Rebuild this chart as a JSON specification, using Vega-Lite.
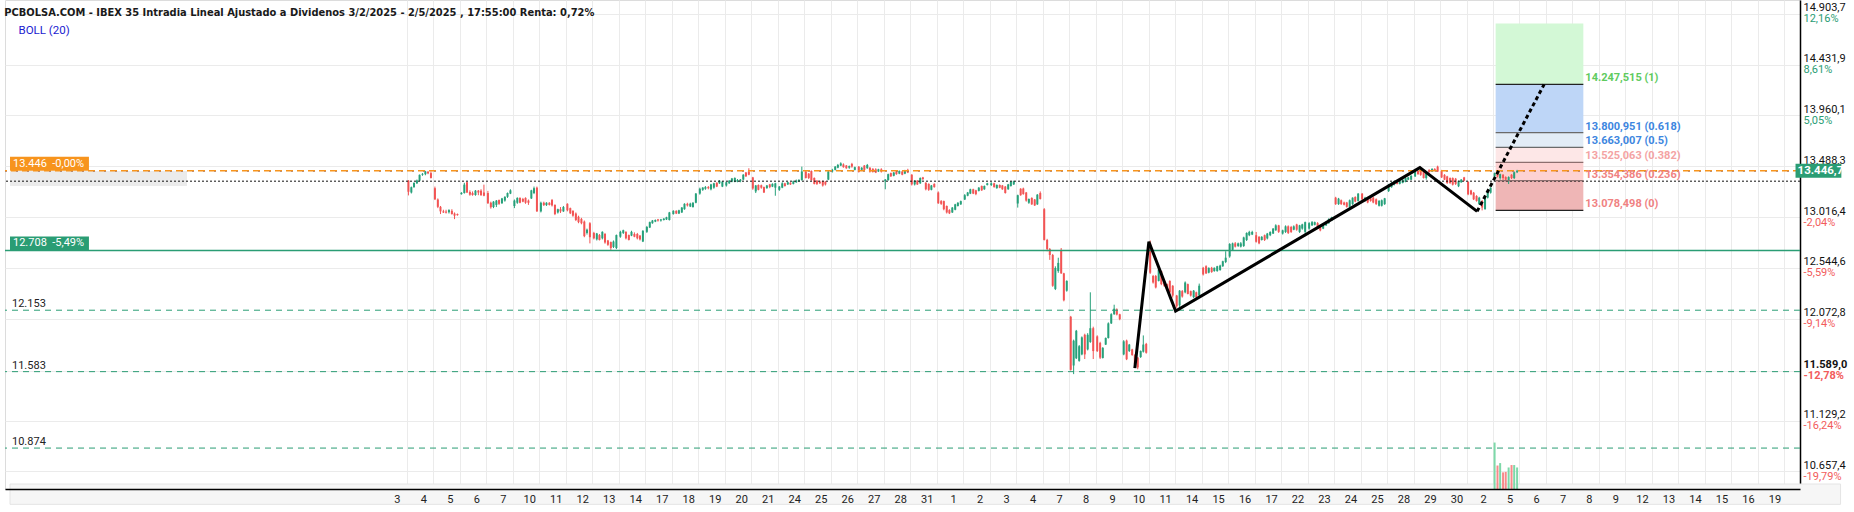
{
"$schema": "https://vega.github.io/schema/vega-lite/v6.json",
"width": 1795, "height": 489,
"autosize": {"type": "none"},
"padding": {"left": 5, "top": 0, "right": 54, "bottom": 23},
"background": "white",
"config": {"view": {"stroke": "#dcdcdc"}, "font": "Roboto"},
"title": {"text": "PCBOLSA.COM - IBEX 35 Intradia Lineal Ajustado a Dividenos 3/2/2025 - 2/5/2025 , 17:55:00 Renta: 0,72%", "subtitle": "\u200b\u00a0\u00a0\u00a0\u00a0\u00a0BOLL (20)", "anchor": "start", "offset": -36.5, "font": "'Liberation Sans Narrow', 'DejaVu Sans Condensed', Roboto", "fontSize": 11, "fontWeight": "bold", "color": "#1a1a1a", "subtitleFont": "Roboto", "subtitleFontSize": 11.5, "subtitleColor": "#1c1cd0", "subtitlePadding": 7},
"datasets": {
"candles": [
{"t":0.06,"o":13355,"c":13252,"h":13360,"l":13218},{"t":0.17,"o":13245,"c":13294,"h":13300,"l":13236},{"t":0.27,"o":13294,"c":13333,"h":13340,"l":13290},{"t":0.38,"o":13330,"c":13357,"h":13365,"l":13325},{"t":0.48,"o":13355,"c":13409,"h":13412,"l":13350},{"t":0.59,"o":13410,"c":13418,"h":13425,"l":13400},{"t":0.70,"o":13415,"c":13440,"h":13446,"l":13405},{"t":0.80,"o":13437,"c":13423,"h":13445,"l":13415},{"t":0.91,"o":13425,"c":13380,"h":13440,"l":13375},
{"t":1.06,"o":13285,"c":13182,"h":13300,"l":13175},{"t":1.17,"o":13180,"c":13112,"h":13190,"l":13100},{"t":1.27,"o":13112,"c":13070,"h":13120,"l":13045},{"t":1.38,"o":13070,"c":13060,"h":13085,"l":13055},{"t":1.48,"o":13068,"c":13058,"h":13085,"l":13050},{"t":1.59,"o":13062,"c":13082,"h":13090,"l":13050},{"t":1.70,"o":13075,"c":13045,"h":13090,"l":13040},{"t":1.80,"o":13050,"c":13030,"h":13060,"l":12998},{"t":1.91,"o":13045,"c":13035,"h":13050,"l":13030},
{"t":2.06,"o":13230,"c":13242,"h":13248,"l":13225},{"t":2.17,"o":13240,"c":13318,"h":13335,"l":13235},{"t":2.27,"o":13340,"c":13245,"h":13345,"l":13240},{"t":2.38,"o":13250,"c":13225,"h":13265,"l":13215},{"t":2.48,"o":13240,"c":13222,"h":13255,"l":13215},{"t":2.59,"o":13222,"c":13262,"h":13268,"l":13215},{"t":2.70,"o":13262,"c":13245,"h":13268,"l":13220},{"t":2.80,"o":13262,"c":13220,"h":13275,"l":13215},{"t":2.91,"o":13245,"c":13215,"h":13318,"l":13210},
{"t":3.06,"o":13240,"c":13145,"h":13260,"l":13140},{"t":3.17,"o":13150,"c":13108,"h":13160,"l":13095},{"t":3.27,"o":13110,"c":13160,"h":13165,"l":13100},{"t":3.38,"o":13130,"c":13170,"h":13175,"l":13110},{"t":3.48,"o":13175,"c":13140,"h":13180,"l":13130},{"t":3.59,"o":13145,"c":13190,"h":13195,"l":13140},{"t":3.70,"o":13170,"c":13205,"h":13210,"l":13160},{"t":3.80,"o":13205,"c":13240,"h":13245,"l":13195},{"t":3.91,"o":13235,"c":13265,"h":13275,"l":13230},
{"t":4.06,"o":13120,"c":13170,"h":13180,"l":13100},{"t":4.17,"o":13150,"c":13195,"h":13200,"l":13140},{"t":4.27,"o":13195,"c":13150,"h":13200,"l":13145},{"t":4.38,"o":13185,"c":13160,"h":13195,"l":13155},{"t":4.48,"o":13195,"c":13150,"h":13200,"l":13140},{"t":4.59,"o":13170,"c":13150,"h":13180,"l":13130},{"t":4.70,"o":13190,"c":13265,"h":13270,"l":13185},{"t":4.80,"o":13240,"c":13285,"h":13300,"l":13230},{"t":4.91,"o":13290,"c":13070,"h":13300,"l":13065},
{"t":5.06,"o":13070,"c":13150,"h":13160,"l":13060},{"t":5.17,"o":13150,"c":13128,"h":13160,"l":13120},{"t":5.27,"o":13128,"c":13150,"h":13155,"l":13120},{"t":5.38,"o":13150,"c":13130,"h":13155,"l":13125},{"t":5.48,"o":13175,"c":13125,"h":13185,"l":13115},{"t":5.59,"o":13130,"c":13045,"h":13135,"l":13035},{"t":5.70,"o":13060,"c":13090,"h":13095,"l":13050},{"t":5.80,"o":13090,"c":13070,"h":13110,"l":13055},{"t":5.91,"o":13070,"c":13110,"h":13120,"l":13065},
{"t":6.06,"o":13140,"c":13080,"h":13145,"l":13070},{"t":6.17,"o":13100,"c":13052,"h":13105,"l":13045},{"t":6.27,"o":13075,"c":13030,"h":13080,"l":13020},{"t":6.38,"o":13050,"c":12990,"h":13060,"l":12980},{"t":6.48,"o":13020,"c":12970,"h":13030,"l":12960},{"t":6.59,"o":13000,"c":12960,"h":13010,"l":12950},{"t":6.70,"o":12975,"c":12840,"h":12985,"l":12830},{"t":6.80,"o":12870,"c":12900,"h":12910,"l":12855},{"t":6.91,"o":12960,"c":12830,"h":12970,"l":12773},
{"t":7.06,"o":12870,"c":12820,"h":12880,"l":12810},{"t":7.17,"o":12810,"c":12865,"h":12870,"l":12800},{"t":7.27,"o":12850,"c":12805,"h":12860,"l":12800},{"t":7.38,"o":12820,"c":12880,"h":12885,"l":12810},{"t":7.48,"o":12860,"c":12780,"h":12870,"l":12770},{"t":7.59,"o":12800,"c":12760,"h":12805,"l":12750},{"t":7.70,"o":12785,"c":12730,"h":12790,"l":12712},{"t":7.80,"o":12740,"c":12790,"h":12800,"l":12730},{"t":7.91,"o":12730,"c":12850,"h":12855,"l":12720},
{"t":8.06,"o":12835,"c":12880,"h":12890,"l":12825},{"t":8.17,"o":12870,"c":12895,"h":12900,"l":12860},{"t":8.27,"o":12880,"c":12820,"h":12885,"l":12810},{"t":8.38,"o":12850,"c":12805,"h":12855,"l":12800},{"t":8.48,"o":12845,"c":12880,"h":12890,"l":12840},{"t":8.59,"o":12860,"c":12835,"h":12875,"l":12830},{"t":8.70,"o":12860,"c":12820,"h":12870,"l":12810},{"t":8.80,"o":12845,"c":12810,"h":12850,"l":12800},{"t":8.91,"o":12790,"c":12890,"h":12895,"l":12785},
{"t":9.06,"o":12880,"c":12925,"h":12935,"l":12870},{"t":9.17,"o":12920,"c":12970,"h":12975,"l":12915},{"t":9.27,"o":12960,"c":12985,"h":12990,"l":12955},{"t":9.38,"o":12975,"c":12990,"h":12995,"l":12970},{"t":9.48,"o":12995,"c":12985,"h":13000,"l":12975},{"t":9.59,"o":12985,"c":12995,"h":13000,"l":12975},{"t":9.70,"o":12990,"c":13002,"h":13008,"l":12985},{"t":9.80,"o":12995,"c":13015,"h":13020,"l":12990},{"t":9.91,"o":12990,"c":13060,"h":13065,"l":12985},
{"t":10.06,"o":13045,"c":13075,"h":13080,"l":13040},{"t":10.17,"o":13075,"c":13050,"h":13080,"l":13045},{"t":10.27,"o":13050,"c":13080,"h":13085,"l":13045},{"t":10.38,"o":13060,"c":13105,"h":13110,"l":13055},{"t":10.48,"o":13090,"c":13140,"h":13145,"l":13085},{"t":10.59,"o":13140,"c":13125,"h":13150,"l":13115},{"t":10.70,"o":13115,"c":13142,"h":13150,"l":13110},{"t":10.80,"o":13110,"c":13150,"h":13155,"l":13105},{"t":10.91,"o":13150,"c":13235,"h":13240,"l":13145},
{"t":11.06,"o":13235,"c":13280,"h":13290,"l":13225},{"t":11.17,"o":13270,"c":13290,"h":13295,"l":13260},{"t":11.27,"o":13280,"c":13295,"h":13305,"l":13270},{"t":11.38,"o":13295,"c":13285,"h":13305,"l":13275},{"t":11.48,"o":13275,"c":13320,"h":13325,"l":13265},{"t":11.59,"o":13290,"c":13330,"h":13335,"l":13280},{"t":11.70,"o":13335,"c":13300,"h":13340,"l":13295},{"t":11.80,"o":13330,"c":13355,"h":13360,"l":13325},{"t":11.91,"o":13300,"c":13345,"h":13350,"l":13295},
{"t":12.06,"o":13310,"c":13340,"h":13345,"l":13300},{"t":12.17,"o":13330,"c":13355,"h":13360,"l":13325},{"t":12.27,"o":13345,"c":13375,"h":13380,"l":13340},{"t":12.38,"o":13345,"c":13380,"h":13385,"l":13340},{"t":12.48,"o":13345,"c":13360,"h":13370,"l":13340},{"t":12.59,"o":13350,"c":13365,"h":13370,"l":13340},{"t":12.70,"o":13365,"c":13410,"h":13415,"l":13360},{"t":12.80,"o":13430,"c":13395,"h":13435,"l":13390},{"t":12.91,"o":13440,"c":13410,"h":13470,"l":13405},
{"t":13.06,"o":13385,"c":13282,"h":13390,"l":13270},{"t":13.17,"o":13255,"c":13310,"h":13315,"l":13240},{"t":13.27,"o":13315,"c":13270,"h":13320,"l":13265},{"t":13.38,"o":13312,"c":13290,"h":13318,"l":13280},{"t":13.48,"o":13295,"c":13245,"h":13300,"l":13240},{"t":13.59,"o":13285,"c":13310,"h":13315,"l":13280},{"t":13.70,"o":13320,"c":13295,"h":13325,"l":13285},{"t":13.80,"o":13300,"c":13325,"h":13330,"l":13295},{"t":13.91,"o":13290,"c":13330,"h":13335,"l":13215},
{"t":14.06,"o":13270,"c":13300,"h":13305,"l":13260},{"t":14.17,"o":13290,"c":13330,"h":13340,"l":13285},{"t":14.27,"o":13330,"c":13305,"h":13335,"l":13300},{"t":14.38,"o":13320,"c":13340,"h":13345,"l":13315},{"t":14.48,"o":13335,"c":13320,"h":13340,"l":13315},{"t":14.59,"o":13325,"c":13350,"h":13355,"l":13320},{"t":14.70,"o":13340,"c":13355,"h":13365,"l":13335},{"t":14.80,"o":13350,"c":13362,"h":13368,"l":13345},{"t":14.91,"o":13360,"c":13440,"h":13485,"l":13355},
{"t":15.06,"o":13440,"c":13380,"h":13450,"l":13375},{"t":15.17,"o":13420,"c":13380,"h":13425,"l":13370},{"t":15.27,"o":13445,"c":13360,"h":13450,"l":13355},{"t":15.38,"o":13380,"c":13325,"h":13385,"l":13320},{"t":15.48,"o":13355,"c":13325,"h":13360,"l":13315},{"t":15.59,"o":13345,"c":13330,"h":13355,"l":13325},{"t":15.70,"o":13350,"c":13310,"h":13355,"l":13300},{"t":15.80,"o":13345,"c":13320,"h":13350,"l":13310},{"t":15.91,"o":13365,"c":13440,"h":13450,"l":13360},
{"t":16.06,"o":13440,"c":13455,"h":13465,"l":13430},{"t":16.17,"o":13455,"c":13485,"h":13490,"l":13450},{"t":16.27,"o":13475,"c":13500,"h":13510,"l":13470},{"t":16.38,"o":13495,"c":13515,"h":13525,"l":13490},{"t":16.48,"o":13505,"c":13480,"h":13515,"l":13475},{"t":16.59,"o":13495,"c":13470,"h":13500,"l":13465},{"t":16.70,"o":13475,"c":13490,"h":13495,"l":13465},{"t":16.80,"o":13510,"c":13485,"h":13520,"l":13475},{"t":16.91,"o":13455,"c":13480,"h":13485,"l":13450},
{"t":17.06,"o":13485,"c":13435,"h":13490,"l":13430},{"t":17.17,"o":13455,"c":13475,"h":13480,"l":13450},{"t":17.27,"o":13495,"c":13455,"h":13500,"l":13450},{"t":17.38,"o":13470,"c":13500,"h":13510,"l":13465},{"t":17.48,"o":13475,"c":13440,"h":13480,"l":13430},{"t":17.59,"o":13465,"c":13435,"h":13470,"l":13430},{"t":17.70,"o":13460,"c":13430,"h":13470,"l":13425},{"t":17.80,"o":13440,"c":13460,"h":13465,"l":13435},{"t":17.91,"o":13460,"c":13440,"h":13470,"l":13430},
{"t":18.06,"o":13350,"c":13365,"h":13370,"l":13275},{"t":18.17,"o":13360,"c":13415,"h":13420,"l":13355},{"t":18.27,"o":13425,"c":13395,"h":13430,"l":13390},{"t":18.38,"o":13400,"c":13430,"h":13435,"l":13395},{"t":18.48,"o":13440,"c":13415,"h":13445,"l":13410},{"t":18.59,"o":13420,"c":13445,"h":13450,"l":13415},{"t":18.70,"o":13440,"c":13410,"h":13445,"l":13405},{"t":18.80,"o":13420,"c":13450,"h":13455,"l":13415},{"t":18.91,"o":13455,"c":13430,"h":13465,"l":13425},
{"t":19.06,"o":13410,"c":13320,"h":13415,"l":13310},{"t":19.17,"o":13320,"c":13355,"h":13360,"l":13310},{"t":19.27,"o":13355,"c":13320,"h":13360,"l":13315},{"t":19.38,"o":13330,"c":13380,"h":13385,"l":13325},{"t":19.48,"o":13385,"c":13370,"h":13390,"l":13360},{"t":19.59,"o":13335,"c":13275,"h":13340,"l":13265},{"t":19.70,"o":13325,"c":13270,"h":13330,"l":13260},{"t":19.80,"o":13270,"c":13310,"h":13315,"l":13265},{"t":19.91,"o":13325,"c":13295,"h":13330,"l":13290},
{"t":20.06,"o":13245,"c":13145,"h":13255,"l":13140},{"t":20.17,"o":13165,"c":13140,"h":13175,"l":13130},{"t":20.27,"o":13165,"c":13090,"h":13170,"l":13080},{"t":20.38,"o":13120,"c":13060,"h":13125,"l":13050},{"t":20.48,"o":13082,"c":13052,"h":13090,"l":13045},{"t":20.59,"o":13060,"c":13105,"h":13110,"l":13055},{"t":20.70,"o":13085,"c":13135,"h":13140,"l":13080},{"t":20.80,"o":13120,"c":13150,"h":13155,"l":13115},{"t":20.91,"o":13135,"c":13165,"h":13170,"l":13130},
{"t":21.06,"o":13180,"c":13220,"h":13230,"l":13175},{"t":21.17,"o":13215,"c":13245,"h":13250,"l":13210},{"t":21.27,"o":13235,"c":13275,"h":13280,"l":13230},{"t":21.38,"o":13275,"c":13235,"h":13280,"l":13230},{"t":21.48,"o":13265,"c":13230,"h":13270,"l":13220},{"t":21.59,"o":13260,"c":13290,"h":13295,"l":13255},{"t":21.70,"o":13305,"c":13265,"h":13310,"l":13260},{"t":21.80,"o":13275,"c":13305,"h":13310,"l":13270},{"t":21.91,"o":13315,"c":13330,"h":13335,"l":13310},
{"t":22.06,"o":13315,"c":13330,"h":13340,"l":13305},{"t":22.17,"o":13330,"c":13295,"h":13335,"l":13290},{"t":22.27,"o":13285,"c":13315,"h":13320,"l":13280},{"t":22.38,"o":13315,"c":13290,"h":13320,"l":13285},{"t":22.48,"o":13310,"c":13275,"h":13315,"l":13270},{"t":22.59,"o":13300,"c":13240,"h":13305,"l":13235},{"t":22.70,"o":13275,"c":13320,"h":13325,"l":13270},{"t":22.80,"o":13305,"c":13345,"h":13350,"l":13300},{"t":22.91,"o":13320,"c":13350,"h":13355,"l":13315},
{"t":23.06,"o":13143,"c":13220,"h":13225,"l":13105},{"t":23.17,"o":13280,"c":13220,"h":13285,"l":13215},{"t":23.27,"o":13282,"c":13230,"h":13290,"l":13225},{"t":23.38,"o":13245,"c":13170,"h":13250,"l":13160},{"t":23.48,"o":13150,"c":13185,"h":13190,"l":13140},{"t":23.59,"o":13195,"c":13135,"h":13200,"l":13130},{"t":23.70,"o":13180,"c":13125,"h":13185,"l":13120},{"t":23.80,"o":13135,"c":13225,"h":13230,"l":13130},{"t":23.91,"o":13240,"c":13185,"h":13255,"l":13180},
{"t":24.06,"o":13090,"c":12805,"h":13100,"l":12800},{"t":24.17,"o":12805,"c":12720,"h":12815,"l":12700},{"t":24.27,"o":12720,"c":12665,"h":12730,"l":12620},{"t":24.38,"o":12665,"c":12380,"h":12675,"l":12370},{"t":24.48,"o":12350,"c":12545,"h":12560,"l":12340},{"t":24.59,"o":12516,"c":12592,"h":12640,"l":12500},{"t":24.70,"o":12713,"c":12495,"h":12730,"l":12490},{"t":24.80,"o":12495,"c":12245,"h":12500,"l":12235},{"t":24.91,"o":12334,"c":12425,"h":12430,"l":12325},
{"t":25.06,"o":12092,"c":11600,"h":12100,"l":11592},{"t":25.17,"o":11640,"c":11870,"h":11880,"l":11560},{"t":25.27,"o":11707,"c":11962,"h":11970,"l":11700},{"t":25.38,"o":11683,"c":11819,"h":11830,"l":11675},{"t":25.48,"o":11743,"c":11901,"h":11910,"l":11735},{"t":25.59,"o":11925,"c":11743,"h":11935,"l":11700},{"t":25.70,"o":11789,"c":11925,"h":11940,"l":11780},{"t":25.80,"o":11858,"c":11986,"h":12319,"l":11850},{"t":25.91,"o":11986,"c":11774,"h":12000,"l":11700},
{"t":26.06,"o":11910,"c":11774,"h":11920,"l":11765},{"t":26.17,"o":11850,"c":11713,"h":11860,"l":11700},{"t":26.27,"o":11710,"c":11804,"h":11810,"l":11705},{"t":26.38,"o":11834,"c":11895,"h":11900,"l":11830},{"t":26.48,"o":11895,"c":12031,"h":12040,"l":11890},{"t":26.59,"o":12031,"c":12116,"h":12125,"l":12025},{"t":26.70,"o":12116,"c":12167,"h":12204,"l":12110},{"t":26.80,"o":12160,"c":12113,"h":12170,"l":12105},{"t":26.91,"o":12115,"c":12070,"h":12120,"l":12060},
{"t":27.06,"o":11743,"c":11864,"h":11875,"l":11735},{"t":27.17,"o":11871,"c":11698,"h":11880,"l":11690},{"t":27.27,"o":11774,"c":11834,"h":11840,"l":11765},{"t":27.38,"o":11789,"c":11737,"h":11795,"l":11730},{"t":27.48,"o":11737,"c":11652,"h":11745,"l":11645},{"t":27.59,"o":11713,"c":11622,"h":11720,"l":11605},{"t":27.70,"o":11719,"c":11774,"h":11780,"l":11710},{"t":27.80,"o":11768,"c":11834,"h":11919,"l":11760},{"t":27.91,"o":11840,"c":11758,"h":11850,"l":11750},
{"t":28.06,"o":12773,"c":12501,"h":12800,"l":12490},{"t":28.17,"o":12470,"c":12410,"h":12480,"l":12400},{"t":28.27,"o":12470,"c":12364,"h":12480,"l":12355},{"t":28.38,"o":12425,"c":12531,"h":12560,"l":12420},{"t":28.48,"o":12516,"c":12395,"h":12520,"l":12385},{"t":28.59,"o":12410,"c":12380,"h":12415,"l":12370},{"t":28.70,"o":12395,"c":12349,"h":12400,"l":12340},{"t":28.80,"o":12425,"c":12319,"h":12430,"l":12310},{"t":28.91,"o":12380,"c":12289,"h":12385,"l":12270},
{"t":29.06,"o":12289,"c":12190,"h":12295,"l":12175},{"t":29.17,"o":12198,"c":12334,"h":12340,"l":12160},{"t":29.27,"o":12330,"c":12280,"h":12340,"l":12270},{"t":29.38,"o":12319,"c":12410,"h":12420,"l":12310},{"t":29.48,"o":12395,"c":12304,"h":12400,"l":12300},{"t":29.59,"o":12330,"c":12289,"h":12335,"l":12280},{"t":29.70,"o":12274,"c":12334,"h":12340,"l":12265},{"t":29.80,"o":12319,"c":12274,"h":12325,"l":12265},{"t":29.91,"o":12290,"c":12380,"h":12400,"l":12280},
{"t":30.06,"o":12546,"c":12485,"h":12555,"l":12475},{"t":30.17,"o":12561,"c":12494,"h":12570,"l":12490},{"t":30.27,"o":12501,"c":12546,"h":12550,"l":12495},{"t":30.38,"o":12546,"c":12507,"h":12555,"l":12500},{"t":30.48,"o":12516,"c":12546,"h":12550,"l":12510},{"t":30.59,"o":12516,"c":12561,"h":12565,"l":12510},{"t":30.70,"o":12525,"c":12567,"h":12575,"l":12520},{"t":30.80,"o":12561,"c":12607,"h":12612,"l":12555},{"t":30.91,"o":12600,"c":12640,"h":12700,"l":12590},
{"t":31.06,"o":12652,"c":12767,"h":12775,"l":12640},{"t":31.17,"o":12713,"c":12773,"h":12780,"l":12705},{"t":31.27,"o":12773,"c":12743,"h":12785,"l":12735},{"t":31.38,"o":12749,"c":12773,"h":12780,"l":12740},{"t":31.48,"o":12743,"c":12773,"h":12785,"l":12735},{"t":31.59,"o":12749,"c":12828,"h":12835,"l":12740},{"t":31.70,"o":12804,"c":12870,"h":12875,"l":12795},{"t":31.80,"o":12849,"c":12879,"h":12890,"l":12840},{"t":31.91,"o":12855,"c":12879,"h":12890,"l":12850},
{"t":32.06,"o":12849,"c":12788,"h":12879,"l":12780},{"t":32.17,"o":12834,"c":12773,"h":12840,"l":12765},{"t":32.27,"o":12804,"c":12834,"h":12840,"l":12800},{"t":32.38,"o":12849,"c":12804,"h":12855,"l":12795},{"t":32.48,"o":12819,"c":12864,"h":12870,"l":12810},{"t":32.59,"o":12849,"c":12879,"h":12885,"l":12840},{"t":32.70,"o":12864,"c":12910,"h":12915,"l":12860},{"t":32.80,"o":12894,"c":12940,"h":12950,"l":12890},{"t":32.91,"o":12940,"c":12880,"h":12945,"l":12870},
{"t":33.06,"o":12864,"c":12894,"h":12900,"l":12855},{"t":33.17,"o":12879,"c":12931,"h":12940,"l":12870},{"t":33.27,"o":12931,"c":12870,"h":12940,"l":12860},{"t":33.38,"o":12925,"c":12879,"h":12935,"l":12870},{"t":33.48,"o":12900,"c":12931,"h":12940,"l":12895},{"t":33.59,"o":12949,"c":12900,"h":12955,"l":12890},{"t":33.70,"o":12879,"c":12940,"h":12945,"l":12870},{"t":33.80,"o":12910,"c":12949,"h":12955,"l":12900},{"t":33.91,"o":12880,"c":12970,"h":12975,"l":12840},
{"t":34.06,"o":12910,"c":12961,"h":12970,"l":12900},{"t":34.17,"o":12940,"c":12970,"h":12980,"l":12935},{"t":34.27,"o":12945,"c":12970,"h":12975,"l":12940},{"t":34.38,"o":12961,"c":12910,"h":12970,"l":12905},{"t":34.48,"o":12940,"c":12894,"h":12945,"l":12885},{"t":34.59,"o":12910,"c":12950,"h":12955,"l":12905},{"t":34.70,"o":12940,"c":12970,"h":12975,"l":12935},{"t":34.80,"o":12960,"c":13000,"h":13005,"l":12955},{"t":34.91,"o":12985,"c":13015,"h":13020,"l":12980},
{"t":35.06,"o":13197,"c":13137,"h":13205,"l":13130},{"t":35.17,"o":13137,"c":13188,"h":13195,"l":13130},{"t":35.27,"o":13173,"c":13137,"h":13180,"l":13130},{"t":35.38,"o":13152,"c":13131,"h":13160,"l":13125},{"t":35.48,"o":13152,"c":13112,"h":13158,"l":13105},{"t":35.59,"o":13112,"c":13173,"h":13180,"l":13105},{"t":35.70,"o":13137,"c":13197,"h":13200,"l":13130},{"t":35.80,"o":13203,"c":13161,"h":13210,"l":13155},{"t":35.91,"o":13167,"c":13234,"h":13240,"l":13160},
{"t":36.06,"o":13234,"c":13182,"h":13240,"l":13175},{"t":36.17,"o":13167,"c":13197,"h":13205,"l":13160},{"t":36.27,"o":13197,"c":13152,"h":13205,"l":13145},{"t":36.38,"o":13191,"c":13167,"h":13195,"l":13160},{"t":36.48,"o":13197,"c":13152,"h":13205,"l":13145},{"t":36.59,"o":13182,"c":13137,"h":13190,"l":13130},{"t":36.70,"o":13122,"c":13167,"h":13175,"l":13115},{"t":36.80,"o":13122,"c":13173,"h":13180,"l":13115},{"t":36.91,"o":13137,"c":13191,"h":13195,"l":13130},
{"t":37.06,"o":13258,"c":13318,"h":13325,"l":13250},{"t":37.17,"o":13294,"c":13334,"h":13340,"l":13290},{"t":37.27,"o":13318,"c":13349,"h":13355,"l":13310},{"t":37.38,"o":13355,"c":13325,"h":13360,"l":13320},{"t":37.48,"o":13325,"c":13355,"h":13360,"l":13320},{"t":37.59,"o":13334,"c":13364,"h":13370,"l":13330},{"t":37.70,"o":13343,"c":13379,"h":13385,"l":13340},{"t":37.80,"o":13364,"c":13385,"h":13390,"l":13360},{"t":37.91,"o":13364,"c":13400,"h":13405,"l":13360},
{"t":38.06,"o":13394,"c":13440,"h":13445,"l":13390},{"t":38.17,"o":13446,"c":13415,"h":13450,"l":13410},{"t":38.27,"o":13455,"c":13409,"h":13460,"l":13400},{"t":38.38,"o":13434,"c":13379,"h":13440,"l":13375},{"t":38.48,"o":13379,"c":13424,"h":13430,"l":13364},{"t":38.59,"o":13455,"c":13434,"h":13460,"l":13430},{"t":38.70,"o":13440,"c":13464,"h":13470,"l":13435},{"t":38.80,"o":13464,"c":13452,"h":13470,"l":13448},{"t":38.91,"o":13485,"c":13440,"h":13494,"l":13435},
{"t":39.06,"o":13446,"c":13385,"h":13455,"l":13380},{"t":39.17,"o":13409,"c":13364,"h":13415,"l":13360},{"t":39.27,"o":13394,"c":13334,"h":13400,"l":13325},{"t":39.38,"o":13379,"c":13334,"h":13385,"l":13325},{"t":39.48,"o":13379,"c":13318,"h":13385,"l":13310},{"t":39.59,"o":13373,"c":13325,"h":13380,"l":13315},{"t":39.70,"o":13303,"c":13349,"h":13355,"l":13295},{"t":39.80,"o":13340,"c":13364,"h":13370,"l":13335},{"t":39.91,"o":13385,"c":13355,"h":13390,"l":13350},
{"t":40.06,"o":13343,"c":13228,"h":13350,"l":13220},{"t":40.17,"o":13264,"c":13228,"h":13270,"l":13220},{"t":40.27,"o":13243,"c":13182,"h":13250,"l":13175},{"t":40.38,"o":13212,"c":13167,"h":13220,"l":13160},{"t":40.48,"o":13137,"c":13197,"h":13205,"l":13130},{"t":40.59,"o":13167,"c":13106,"h":13175,"l":13079},{"t":40.70,"o":13091,"c":13197,"h":13205,"l":13085},{"t":40.80,"o":13197,"c":13258,"h":13265,"l":13190},{"t":40.91,"o":13243,"c":13288,"h":13295,"l":13235},
{"t":41.06,"o":13394,"c":13424,"h":13430,"l":13385},{"t":41.17,"o":13424,"c":13394,"h":13430,"l":13385},{"t":41.27,"o":13379,"c":13415,"h":13420,"l":13364},{"t":41.38,"o":13410,"c":13379,"h":13415,"l":13358},{"t":41.48,"o":13388,"c":13364,"h":13395,"l":13349},{"t":41.59,"o":13349,"c":13388,"h":13395,"l":13324},{"t":41.70,"o":13410,"c":13379,"h":13415,"l":13370},{"t":41.80,"o":13379,"c":13433,"h":13440,"l":13370},{"t":41.91,"o":13433,"c":13446.7,"h":13455,"l":13425}
],
"vol": [
{"t":41.06,"v":95,"up":true},{"t":41.17,"v":48,"up":false},{"t":41.27,"v":53,"up":true},{"t":41.38,"v":34,"up":false},{"t":41.48,"v":35,"up":false},{"t":41.59,"v":44,"up":true},{"t":41.70,"v":49,"up":false},{"t":41.80,"v":49,"up":true},{"t":41.91,"v":44,"up":true}
],
"fib": [
{"lv":"1","p":14247.515,"t0":41.1,"t1":44.41,"txt":"14.247,515 (1)"},
{"lv":"0.618","p":13800.951,"t0":41.1,"t1":44.41,"txt":"13.800,951 (0.618)"},
{"lv":"0.5","p":13663.007,"t0":41.1,"t1":44.41,"txt":"13.663,007 (0.5)"},
{"lv":"0.382","p":13525.063,"t0":41.1,"t1":44.41,"txt":"13.525,063 (0.382)"},
{"lv":"0.236","p":13354.386,"t0":41.1,"t1":44.41,"txt":"13.354,386 (0.236)"},
{"lv":"0","p":13078.498,"t0":41.1,"t1":44.41,"txt":"13.078,498 (0)"}
],
"zones": [
{"z":"a","lo":14247.515,"hi":14812,"t0":41.1,"t1":44.41},
{"z":"b","lo":13800.951,"hi":14247.515,"t0":41.1,"t1":44.41},
{"z":"c","lo":13663.007,"hi":13800.951,"t0":41.1,"t1":44.41},
{"z":"d","lo":13525.063,"hi":13663.007,"t0":41.1,"t1":44.41},
{"z":"e","lo":13354.386,"hi":13525.063,"t0":41.1,"t1":44.41},
{"z":"f","lo":13078.498,"hi":13354.386,"t0":41.1,"t1":44.41}
]
},
"layer": [
{
"layer": [
{"data": {"values": [{"p": 13374}]},
 "mark": {"type": "bar", "size": 15, "color": "#ebebeb"},
 "encoding": {"x": {"datum": -14.98, "type": "quantitative", "scale": {"domain": [-14.98, 52.4], "nice": false, "zero": false}, "axis": null}, "x2": {"datum": -8.3},
  "y": {"field": "p", "type": "quantitative", "scale": {"domain": [10540.6, 14984.6], "nice": false, "zero": false}, "axis": null}}},
{"data": {"values": [{"p": 10540.6, "p2": 10352}]},
 "mark": {"type": "rect", "color": "#f6f6f6", "stroke": "#e4e4e4", "strokeWidth": 1},
 "encoding": {"x": {"datum": -14.98, "type": "quantitative", "axis": null}, "x2": {"datum": 54.12},
  "y": {"field": "p", "type": "quantitative", "axis": null}, "y2": {"field": "p2"}}},
{"data": {"name": "zones"},
 "mark": {"type": "rect"},
 "encoding": {"x": {"field": "t0", "type": "quantitative", "axis": null}, "x2": {"field": "t1"},
  "y": {"field": "lo", "type": "quantitative", "axis": null}, "y2": {"field": "hi"},
  "fill": {"field": "z", "type": "nominal", "legend": null, "scale": {"domain": ["a","b","c","d","e","f"], "range": ["#d3f8d6","#bed6f7","#e2ecf6","#fde7e7","#fdd2d2","#efb6b6"]}}}},
{"data": {"name": "candles"},
 "mark": {"type": "rule", "strokeWidth": 1},
 "encoding": {
  "x": {"field": "t", "type": "quantitative",
   "axis": {"orient": "bottom", "values": [0,1,2,3,4,5,6,7,8,9,10,11,12,13,14,15,16,17,18,19,20,21,22,23,24,25,26,27,28,29,30,31,32,33,34,35,36,37,38,39,40,41,42,43,44,45,46,47,48,49,50,51,52], "grid": true, "gridColor": "#ebebeb", "labels": false, "ticks": false, "domain": false, "title": null}},
  "y": {"field": "l", "type": "quantitative",
   "axis": {"orient": "right", "values": [14903.7,14431.9,13960.1,13488.3,13016.4,12544.6,12072.8,11589,11129.2,10657.4], "grid": true, "gridColor": "#ebebeb", "domain": true, "domainColor": "#000000", "domainWidth": 1.5, "ticks": false, "labelPadding": 3, "labelOffset": -6, "labelBaseline": "middle", "labelAlign": "left", "labelFontSize": 11, "labelFont": "Roboto", "labelColor": "#111111", "labelOverlap": false, "labelFlush": false, "labelBound": false, "title": null,
    "labelExpr": "replace(replace(replace(format(datum.value, ',.1f'), ',', '_'), '.', ','), '_', '.')",
    "labelFontWeight": {"condition": {"test": "datum.value == 11589", "value": "bold"}, "value": "normal"}}},
  "y2": {"field": "h"},
  "color": {"condition": {"test": "datum.c >= datum.o", "value": "#26a07a"}, "value": "#f25454"}}},
{"data": {"name": "candles"},
 "mark": {"type": "bar", "size": 2},
 "encoding": {
  "x": {"field": "t", "type": "quantitative",
   "axis": {"orient": "bottom", "values": [0,1,2,3,4,5,6,7,8,9,10,11,12,13,14,15,16,17,18,19,20,21,22,23,24,25,26,27,28,29,30,31,32,33,34,35,36,37,38,39,40,41,42,43,44,45,46,47,48,49,50,51,52], "grid": false, "ticks": false, "domain": true, "domainColor": "#000000", "domainWidth": 1.5, "labelOffset": -10, "labelPadding": 4, "labelFontSize": 11, "labelFont": "Roboto", "labelColor": "#222222", "labelOverlap": false, "labelFlush": false, "labelBound": false, "title": null, "zindex": 1,
    "labelExpr": "['3','4','5','6','7','10','11','12','13','14','17','18','19','20','21','24','25','26','27','28','31','1','2','3','4','7','8','9','10','11','14','15','16','17','22','23','24','25','28','29','30','2','5','6','7','8','9','12','13','14','15','16','19'][datum.value]"}},
  "y": {"field": "o", "type": "quantitative",
   "axis": {"orient": "right", "values": [14903.7,14431.9,13960.1,13488.3,13016.4,12544.6,12072.8,11589,11129.2,10657.4], "grid": false, "domain": false, "ticks": false, "labelPadding": 3, "labelOffset": 5, "labelBaseline": "middle", "labelAlign": "left", "labelFontSize": 11, "labelFont": "Roboto", "labelOverlap": false, "labelFlush": false, "labelBound": false, "title": null,
    "labelExpr": "['12,16%','8,61%','5,05%','','-2,04%','-5,59%','-9,14%','-12,78%','-16,24%','-19,79%'][indexof([14903.7,14431.9,13960.1,13488.3,13016.4,12544.6,12072.8,11589,11129.2,10657.4], datum.value)]",
    "labelColor": {"condition": {"test": "datum.value > 13300", "value": "#2a9d74"}, "value": "#f25c5c"},
    "labelFontWeight": {"condition": {"test": "datum.value == 11589", "value": "bold"}, "value": "normal"}}},
  "y2": {"field": "c"},
  "color": {"condition": {"test": "datum.c >= datum.o", "value": "#26a07a"}, "value": "#f25454"}}},
{"data": {"values": [{"p": 13350}]},
 "mark": {"type": "rule", "color": "#111111", "strokeWidth": 1, "strokeDash": [2, 2]},
 "encoding": {"y": {"field": "p", "type": "quantitative", "axis": null}}},
{"data": {"values": [{"p": 13446}]},
 "mark": {"type": "rule", "color": "#1f1f8f", "strokeWidth": 1.5, "strokeDash": [2, 9]},
 "encoding": {"y": {"field": "p", "type": "quantitative", "axis": null}}},
{"data": {"values": [{"p": 13446}]},
 "mark": {"type": "rule", "color": "#f7941d", "strokeWidth": 1.5, "strokeDash": [7, 4]},
 "encoding": {"y": {"field": "p", "type": "quantitative", "axis": null}}},
{"data": {"values": [{"p": 12708}]},
 "mark": {"type": "rule", "color": "#2a9d74", "strokeWidth": 1.5},
 "encoding": {"y": {"field": "p", "type": "quantitative", "axis": null}}},
{"data": {"values": [{"p": 12153}, {"p": 11583}, {"p": 10874}]},
 "mark": {"type": "rule", "color": "#2a9d74", "strokeWidth": 1, "strokeDash": [6, 5]},
 "encoding": {"y": {"field": "p", "type": "quantitative", "axis": null}}},
{"data": {"name": "fib"},
 "mark": {"type": "rule", "strokeWidth": 1.2},
 "encoding": {"x": {"field": "t0", "type": "quantitative", "axis": null}, "x2": {"field": "t1"},
  "y": {"field": "p", "type": "quantitative", "axis": null},
  "stroke": {"field": "lv", "type": "nominal", "legend": null, "scale": {"domain": ["1","0.618","0.5","0.382","0.236","0"], "range": ["#222222","#6a6a6a","#6a6a6a","#8c6f6f","#8c6f6f","#222222"]}}}},
{"data": {"name": "fib"},
 "mark": {"type": "text", "align": "left", "baseline": "middle", "dx": 2, "dy": -6, "fontSize": 11, "fontWeight": "bold", "font": "Roboto"},
 "encoding": {"x": {"field": "t1", "type": "quantitative", "axis": null},
  "y": {"field": "p", "type": "quantitative", "axis": null},
  "text": {"field": "txt"},
  "color": {"field": "lv", "type": "nominal", "legend": null, "scale": {"domain": ["1","0.618","0.5","0.382","0.236","0"], "range": ["#5ecb5e","#3d86e0","#3d86e0","#f4a3a3","#f08282","#f08282"]}}}},
{"data": {"values": [{"t": 27.48, "p": 11616}, {"t": 28.01, "p": 12788}, {"t": 29.02, "p": 12146}, {"t": 38.24, "p": 13476}, {"t": 40.40, "p": 13070}]},
 "mark": {"type": "line", "color": "#000000", "strokeWidth": 3},
 "encoding": {"x": {"field": "t", "type": "quantitative", "axis": null}, "y": {"field": "p", "type": "quantitative", "axis": null}}},
{"data": {"values": [{"t": 40.40, "p": 13070}, {"t": 42.93, "p": 14248}]},
 "mark": {"type": "line", "color": "#000000", "strokeWidth": 3, "strokeDash": [4, 3]},
 "encoding": {"x": {"field": "t", "type": "quantitative", "axis": null}, "y": {"field": "p", "type": "quantitative", "axis": null}}},
{"data": {"values": [{"p": 13446, "txt": "13.446\u00a0\u00a0-0,00%", "k": "o"}, {"p": 12708, "txt": "12.708\u00a0\u00a0-5,49%", "k": "g"}]},
 "layer": [
  {"mark": {"type": "bar", "size": 14, "yOffset": -7},
   "encoding": {"x": {"datum": -14.98, "type": "quantitative", "axis": null}, "x2": {"datum": -12.0},
    "y": {"field": "p", "type": "quantitative", "axis": null},
    "color": {"condition": {"test": "datum.k == 'o'", "value": "#f7941d"}, "value": "#2a9d74"}}},
  {"mark": {"type": "text", "align": "left", "baseline": "middle", "dx": 3, "dy": -7, "fontSize": 11, "font": "Roboto", "color": "#ffffff"},
   "encoding": {"x": {"datum": -14.98, "type": "quantitative", "axis": null},
    "y": {"field": "p", "type": "quantitative", "axis": null}, "text": {"field": "txt"}}}
 ]},
{"data": {"values": [{"p": 12153, "txt": "12.153"}, {"p": 11583, "txt": "11.583"}, {"p": 10874, "txt": "10.874"}]},
 "mark": {"type": "text", "align": "left", "baseline": "middle", "dx": 2, "dy": -6, "fontSize": 11, "font": "Roboto", "color": "#222222"},
 "encoding": {"x": {"datum": -14.98, "type": "quantitative", "axis": null},
  "y": {"field": "p", "type": "quantitative", "axis": null}, "text": {"field": "txt"}}},
{"data": {"values": [{"p": 13446.7, "txt": "13.446,7"}]},
 "layer": [
  {"mark": {"type": "bar", "size": 14, "color": "#2a9d74"},
   "encoding": {"x": {"datum": 52.42, "type": "quantitative", "axis": null}, "x2": {"datum": 54.15},
    "y": {"field": "p", "type": "quantitative", "axis": null}}},
  {"mark": {"type": "text", "align": "left", "baseline": "middle", "dx": 2, "fontSize": 11.5, "fontWeight": "bold", "font": "Roboto", "color": "#ffffff"},
   "encoding": {"x": {"datum": 52.42, "type": "quantitative", "axis": null},
    "y": {"field": "p", "type": "quantitative", "axis": null}, "text": {"field": "txt"}}}
 ]}
],
"resolve": {"axis": {"x": "independent", "y": "independent"}}
},
{"data": {"name": "vol"},
 "mark": {"type": "bar", "size": 2},
 "encoding": {"x": {"field": "t", "type": "quantitative", "axis": null},
  "y": {"field": "v", "type": "quantitative", "scale": {"domain": [0, 1000]}, "axis": null},
  "color": {"condition": {"test": "datum.up", "value": "#7dd9a9"}, "value": "#f78a8a"}}}
],
"resolve": {"scale": {"y": "independent"}}
}
